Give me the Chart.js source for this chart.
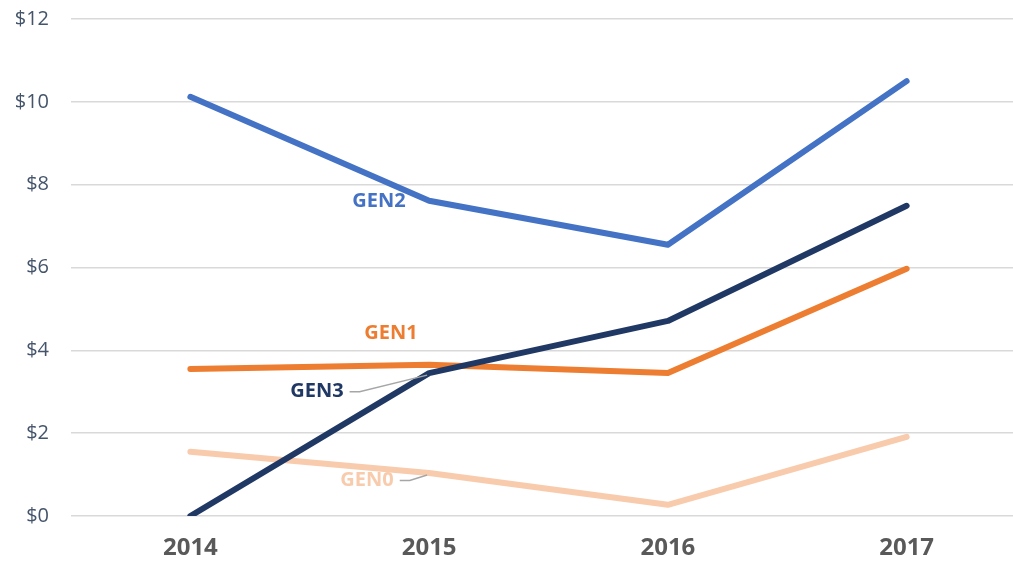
<!DOCTYPE html>
<html>
<head>
<meta charset="utf-8">
<script src="https://cdn.jsdelivr.net/npm/chart.js@4"></script>
<style>
    html, body { margin: 0; padding: 0; background: #fff; overflow: hidden; }
    #wrap { width: 1026px; height: 566px; }
</style>
</head>
<body>
<div id="wrap"><canvas id="priceChart" width="1026" height="566"></canvas></div>
<script>
const years = ['2014', '2015', '2016', '2017'];
const gen3 = [0, 3.45, 4.71, 7.49];
const gen2 = [10.12, 7.61, 6.55, 10.5];
const gen1 = [3.55, 3.65, 3.45, 5.97];
const gen0 = [1.55, 1.04, 0.27, 1.91];
const yTicks = [0, 2, 4, 6, 8, 10, 12];

// inline series labels: [text, colour, x (category index), y (value), leader to point index or null]
const seriesLabels = [
    ['GEN2', '#4472C4', 0.79, 7.6, null],
    ['GEN1', '#ED7D31', 0.84, 4.4, null],
    ['GEN3', '#203864', 0.53, 3.0, 1],
    ['GEN0', '#F8CBAD', 0.74, 0.86, 1]
];

const labelPlugin = {
    id: 'seriesLabels',
    afterDatasetsDraw(chart) {
        const ctx = chart.ctx;
        const xs = chart.scales.x;
        const ys = chart.scales.y;
        ctx.save();
        ctx.font = 'bold 20px "Open Sans", sans-serif';
        ctx.textAlign = 'center';
        ctx.textBaseline = 'middle';
        seriesLabels.forEach(l => {
            const step = xs.getPixelForValue(1) - xs.getPixelForValue(0);
            const x = xs.getPixelForValue(0) + l[2] * step;
            const y = ys.getPixelForValue(l[3]);
            ctx.fillStyle = l[1];
            ctx.fillText(l[0], x, y);
            if (l[4] !== null) {
                const w = ctx.measureText(l[0]).width;
                const data = l[0] === 'GEN3' ? gen3 : gen0;
                const tx = xs.getPixelForValue(l[4]);
                const ty = ys.getPixelForValue(data[l[4]]);
                ctx.strokeStyle = '#A6A6A6';
                ctx.lineWidth = 1.5;
                ctx.beginPath();
                ctx.moveTo(x + w / 2 + 6, y);
                ctx.lineTo(x + w / 2 + 16, y);
                ctx.lineTo(tx - 2, ty + 2);
                ctx.stroke();
            }
        });
        ctx.restore();
    }
};

function line(label, data, color) {
    return {
        label: label,
        data: data,
        borderColor: color,
        backgroundColor: color,
        borderWidth: 6,
        borderCapStyle: 'round',
        borderJoinStyle: 'round',
        pointRadius: 0,
        tension: 0,
        fill: false
    };
}

new Chart(document.getElementById('priceChart').getContext('2d'), {
    type: 'line',
    data: {
        labels: years,
        datasets: [
            line('GEN3', gen3, '#203864'),
            line('GEN2', gen2, '#4472C4'),
            line('GEN1', gen1, '#ED7D31'),
            line('GEN0', gen0, '#F8CBAD')
        ]
    },
    options: {
        responsive: false,
        animation: false,
        layout: { autoPadding: false, padding: { top: 19, right: 0, left: 13, bottom: 3 } },
        plugins: { legend: { display: false }, tooltip: { enabled: false } },
        scales: {
            x: {
                offset: true,
                grid: { display: false, drawTicks: false },
                border: { display: false },
                afterFit(axis) { axis.height = 47; axis.paddingLeft = 0; axis.paddingRight = 0; },
                ticks: {
                    color: '#595959',
                    font: { family: '"Open Sans", sans-serif', size: 24, weight: 'bold' },
                    padding: 18,
                    maxRotation: 0
                }
            },
            y: {
                min: 0,
                max: 12,
                afterBuildTicks(axis) { axis.ticks = yTicks.map(v => ({ value: v })); },
                afterFit(axis) { axis.width = 58; axis.paddingTop = 0; axis.paddingBottom = 0; },
                grid: { color: '#D9D9D9', lineWidth: 1.5, drawTicks: false },
                border: { display: false },
                ticks: {
                    color: '#44546A',
                    font: { family: '"Open Sans", sans-serif', size: 20 },
                    padding: 22,
                    callback: v => '$' + v
                }
            }
        }
    },
    plugins: [labelPlugin]
});
</script>
</body>
</html>
